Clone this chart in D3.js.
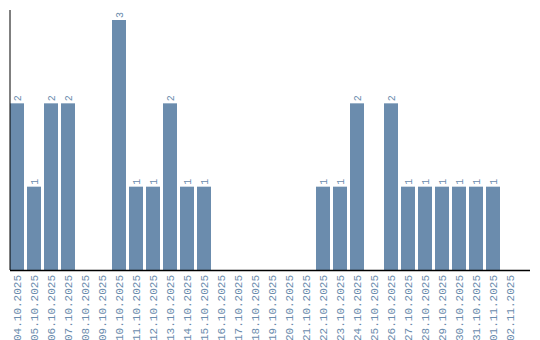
<!DOCTYPE html>
<html>
<head>
<meta charset="utf-8">
<script src="https://cdn.jsdelivr.net/npm/d3@7"></script>
<style>
  body { margin: 0; background: #fff; }
  text { font-family: "Liberation Mono", "Courier New", monospace; fill: #6b8cad; }
</style>
</head>
<body>
<div id="chart"></div>
<script>
const dates = ["04.10.2025", "05.10.2025", "06.10.2025", "07.10.2025", "08.10.2025",
  "09.10.2025", "10.10.2025", "11.10.2025", "12.10.2025", "13.10.2025",
  "14.10.2025", "15.10.2025", "16.10.2025", "17.10.2025", "18.10.2025",
  "19.10.2025", "20.10.2025", "21.10.2025", "22.10.2025", "23.10.2025",
  "24.10.2025", "25.10.2025", "26.10.2025", "27.10.2025", "28.10.2025",
  "29.10.2025", "30.10.2025", "31.10.2025", "01.11.2025", "02.11.2025"];
const counts = [2, 1, 2, 2, 0, 0, 3, 1, 1, 2, 1, 1, 0, 0, 0, 0, 0, 0, 1, 1, 2, 0, 2, 1, 1, 1, 1, 1, 1, 0];

const data = dates.map((d, i) => ({ date: d, count: counts[i] }));

const width = 540, height = 340;
const margin = { top: 10, right: 10, bottom: 70, left: 10 };

const svg = d3.select("#chart")
  .append("svg")
  .attr("width", width)
  .attr("height", height);

const x = d3.scaleBand()
  .domain(dates)
  .range([margin.left, 517])
  .paddingInner(3 / 17)
  .paddingOuter(0);

const y = d3.scaleLinear()
  .domain([0, 3])
  .range([270, 20]);

const bars = data.filter(d => d.count > 0);

svg.selectAll("rect")
  .data(bars)
  .enter()
  .append("rect")
  .attr("x", d => x(d.date))
  .attr("y", d => y(d.count))
  .attr("width", x.bandwidth())
  .attr("height", d => y(0) - y(d.count))
  .attr("fill", "#6b8cad");

// value labels
svg.selectAll(".val")
  .data(bars)
  .enter()
  .append("text")
  .attr("class", "val")
  .attr("transform", d => `translate(${x(d.date) + x.bandwidth() / 2 + 3.5},${y(d.count) - 2}) rotate(-90)`)
  .style("font-size", "10px")
  .text(d => d.count);

// date labels
svg.selectAll(".lbl")
  .data(data)
  .enter()
  .append("text")
  .attr("class", "lbl")
  .attr("text-anchor", "end")
  .attr("transform", d => `translate(${x(d.date) + x.bandwidth() / 2 + 4},275) rotate(-90)`)
  .style("font-size", "11px")
  .text(d => d.date);

// axes
svg.append("line")
  .attr("x1", margin.left).attr("x2", margin.left)
  .attr("y1", 10).attr("y2", 270)
  .attr("stroke", "#000").attr("stroke-width", 1);

svg.append("line")
  .attr("x1", margin.left).attr("x2", width - margin.right)
  .attr("y1", 270.5).attr("y2", 270.5)
  .attr("stroke", "#000").attr("stroke-width", 1.5);
</script>
</body>
</html>
